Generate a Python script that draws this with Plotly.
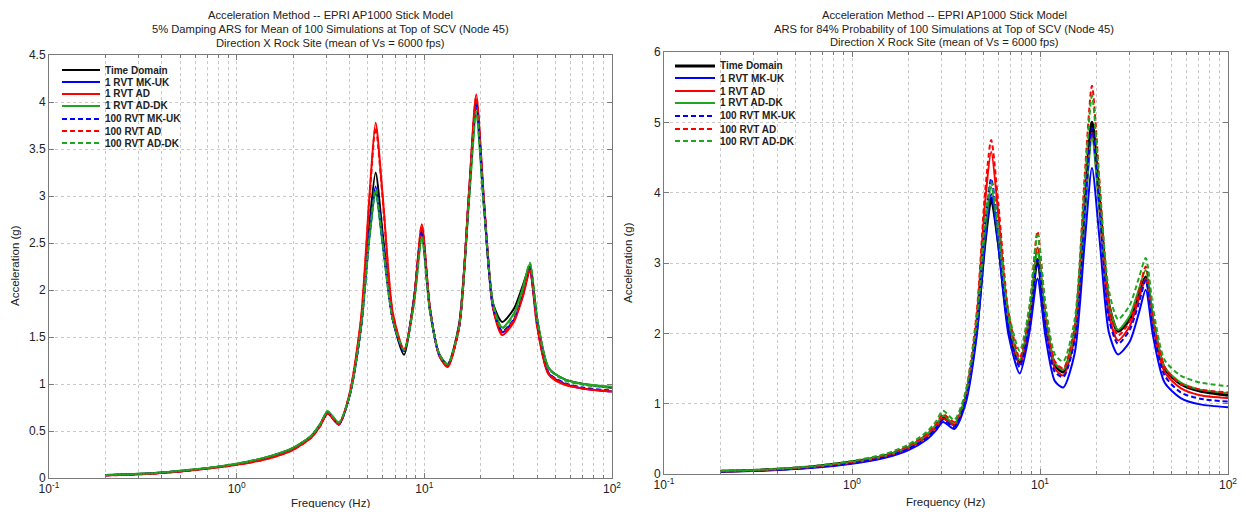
import plotly.graph_objects as go

# ---------------- data ----------------
freq = [0.2, 0.35, 0.6, 1.0, 1.5, 2.0, 2.5, 2.8, 3.05, 3.5, 4.0, 4.6, 5.1, 5.5, 6.0, 6.8,
        7.8, 8.8, 9.7, 10.7, 12.0, 13.3, 15.3, 17.3, 18.9, 20.8, 23.3, 26.0, 30.0, 33.5,
        36.5, 40.0, 46.0, 56.0, 71.0, 100.0]

series_names = ["Time Domain", "1 RVT MK-UK", "1 RVT AD", "1 RVT AD-DK",
                "100 RVT MK-UK", "100 RVT AD", "100 RVT AD-DK"]

# Left chart: mean of 100 simulations
mean_td = [0.03, 0.05, 0.09, 0.15, 0.23, 0.32, 0.45, 0.58, 0.70, 0.58, 0.88, 1.62, 2.70, 3.25, 2.60, 1.68,
           1.31, 1.90, 2.62, 1.80, 1.32, 1.21, 1.63, 3.00, 4.00, 2.90, 1.85, 1.66, 1.80, 2.05,
           2.25, 1.68, 1.17, 1.05, 1.00, 0.96]
mean_1mk = [0.03, 0.048, 0.088, 0.145, 0.22, 0.31, 0.44, 0.57, 0.69, 0.57, 0.88, 1.62, 2.62, 3.10, 2.52, 1.68,
            1.35, 1.90, 2.64, 1.80, 1.31, 1.19, 1.60, 3.02, 4.02, 2.92, 1.80, 1.55, 1.68, 1.95,
            2.22, 1.62, 1.11, 1.00, 0.95, 0.92]
mean_1ad = [0.028, 0.045, 0.085, 0.14, 0.21, 0.30, 0.43, 0.56, 0.69, 0.57, 0.90, 1.70, 3.00, 3.78, 3.00, 1.75,
            1.36, 1.90, 2.70, 1.82, 1.30, 1.18, 1.60, 3.05, 4.08, 2.95, 1.80, 1.52, 1.66, 1.93,
            2.20, 1.60, 1.10, 0.99, 0.95, 0.92]
mean_1addk = [0.032, 0.05, 0.092, 0.152, 0.23, 0.32, 0.45, 0.58, 0.71, 0.59, 0.88, 1.60, 2.55, 3.03, 2.48, 1.68,
              1.36, 1.85, 2.55, 1.78, 1.32, 1.21, 1.60, 2.95, 3.86, 2.86, 1.84, 1.60, 1.75, 2.02,
              2.28, 1.68, 1.17, 1.05, 1.00, 0.97]
mean_100mk = [0.03, 0.048, 0.088, 0.145, 0.22, 0.31, 0.44, 0.57, 0.69, 0.57, 0.88, 1.60, 2.58, 3.06, 2.50, 1.68,
              1.35, 1.89, 2.62, 1.80, 1.31, 1.20, 1.60, 3.00, 3.98, 2.90, 1.80, 1.56, 1.69, 1.96,
              2.22, 1.63, 1.12, 1.01, 0.96, 0.93]
mean_100ad = [0.028, 0.045, 0.085, 0.14, 0.21, 0.30, 0.43, 0.56, 0.69, 0.57, 0.90, 1.68, 2.96, 3.73, 2.97, 1.74,
              1.36, 1.89, 2.68, 1.81, 1.31, 1.19, 1.60, 3.03, 4.05, 2.93, 1.80, 1.54, 1.68, 1.94,
              2.21, 1.61, 1.11, 1.00, 0.95, 0.92]
mean_100addk = [0.032, 0.05, 0.092, 0.152, 0.23, 0.32, 0.45, 0.58, 0.71, 0.59, 0.88, 1.61, 2.57, 3.07, 2.50, 1.68,
                1.36, 1.86, 2.57, 1.79, 1.32, 1.21, 1.60, 2.97, 3.90, 2.88, 1.83, 1.59, 1.74, 2.01,
                2.29, 1.69, 1.16, 1.04, 0.99, 0.96]

# Right chart: 84% probability of 100 simulations
p84_td = [0.04, 0.06, 0.10, 0.17, 0.26, 0.38, 0.55, 0.68, 0.80, 0.70, 1.05, 2.05, 3.30, 3.92, 3.30, 2.10,
          1.58, 2.20, 3.05, 2.15, 1.55, 1.45, 2.00, 3.80, 5.00, 3.85, 2.40, 2.03, 2.20, 2.55,
          2.80, 2.15, 1.50, 1.28, 1.18, 1.12]
p84_1mk = [0.035, 0.05, 0.085, 0.145, 0.23, 0.34, 0.49, 0.62, 0.74, 0.64, 0.98, 1.95, 3.30, 3.98, 3.25, 1.98,
           1.43, 2.02, 2.78, 1.95, 1.32, 1.23, 1.72, 3.30, 4.35, 3.30, 2.00, 1.70, 1.88, 2.28,
           2.62, 1.95, 1.30, 1.08, 0.99, 0.95]
p84_1ad = [0.038, 0.056, 0.095, 0.16, 0.25, 0.37, 0.53, 0.66, 0.79, 0.69, 1.08, 2.20, 3.85, 4.58, 3.70, 2.20,
           1.55, 2.20, 3.22, 2.20, 1.50, 1.40, 1.95, 3.75, 4.85, 3.70, 2.25, 1.90, 2.10, 2.48,
           2.78, 2.10, 1.45, 1.22, 1.12, 1.08]
p84_1addk = [0.042, 0.062, 0.10, 0.17, 0.26, 0.39, 0.56, 0.70, 0.83, 0.72, 1.08, 2.12, 3.45, 4.08, 3.40, 2.18,
             1.62, 2.25, 3.15, 2.25, 1.58, 1.48, 2.05, 3.70, 4.78, 3.70, 2.40, 2.05, 2.25, 2.62,
             2.90, 2.20, 1.52, 1.30, 1.20, 1.15]
p84_100mk = [0.037, 0.054, 0.09, 0.155, 0.24, 0.36, 0.51, 0.65, 0.77, 0.67, 1.02, 2.10, 3.55, 4.20, 3.45, 2.08,
             1.52, 2.15, 3.05, 2.12, 1.45, 1.38, 1.90, 3.75, 4.92, 3.75, 2.20, 1.85, 2.05, 2.42,
             2.75, 2.05, 1.40, 1.16, 1.07, 1.03]
p84_100ad = [0.042, 0.062, 0.105, 0.175, 0.27, 0.40, 0.57, 0.71, 0.85, 0.74, 1.12, 2.28, 4.00, 4.75, 3.85, 2.30,
             1.65, 2.35, 3.45, 2.35, 1.60, 1.50, 2.10, 4.25, 5.52, 4.10, 2.40, 1.97, 2.17, 2.58,
             2.95, 2.22, 1.52, 1.28, 1.20, 1.16]
p84_100addk = [0.045, 0.066, 0.11, 0.185, 0.285, 0.42, 0.60, 0.75, 0.90, 0.77, 1.15, 2.20, 3.60, 4.15, 3.50, 2.30,
               1.75, 2.40, 3.40, 2.40, 1.70, 1.60, 2.20, 4.15, 5.38, 4.05, 2.60, 2.20, 2.40, 2.78,
               3.07, 2.35, 1.62, 1.40, 1.30, 1.25]

x_tickvals = [0.1, 1, 10, 100]
x_ticktext = ["10<sup>-1</sup>", "10<sup>0</sup>", "10<sup>1</sup>", "10<sup>2</sup>"]
x_minor = [0.2, 0.3, 0.4, 0.5, 0.6, 0.7, 0.8, 0.9, 2, 3, 4, 5, 6, 7, 8, 9,
           20, 30, 40, 50, 60, 70, 80, 90]
y1_ticks = [0, 0.5, 1, 1.5, 2, 2.5, 3, 3.5, 4, 4.5]
y1_text = ["0", "0.5", "1", "1.5", "2", "2.5", "3", "3.5", "4", "4.5"]
y2_ticks = [0, 1, 2, 3, 4, 5, 6]
y2_text = ["0", "1", "2", "3", "4", "5", "6"]

left_title = ["Acceleration Method -- EPRI AP1000 Stick Model",
              "5% Damping ARS for Mean of 100 Simulations at Top of SCV (Node 45)",
              "Direction X Rock Site (mean of Vs = 6000 fps)"]
right_title = ["Acceleration Method -- EPRI AP1000 Stick Model",
               "ARS for 84% Probability of 100 Simulations at Top of SCV (Node 45)",
               "Direction X Rock Site (mean of Vs = 6000 fps)"]

# ---------------- styles ----------------
# the page body has an 8px margin, so the figure is drawn from (8, 8) of the window
OFF = 8
W, H = 1246 - 2 * OFF, 516 - 2 * OFF
FONT = "Liberation Sans, Arial, sans-serif"
BLACK, BLUE, RED, GREEN = "#000000", "#0000ff", "#ff0000", "#1fa51f"
colors = [BLACK, BLUE, RED, GREEN, BLUE, RED, GREEN]
dashes = ["solid", "solid", "solid", "solid", "5px,3px", "5px,3px", "5px,3px"]

left_series = [mean_td, mean_1mk, mean_1ad, mean_1addk, mean_100mk, mean_100ad, mean_100addk]
right_series = [p84_td, p84_1mk, p84_1ad, p84_1addk, p84_100mk, p84_100ad, p84_100addk]

def px(x):
    return (x - OFF) / W

def py(y):
    return 1 - (y - OFF) / H

fig = go.Figure()

for i, ys in enumerate(left_series):
    fig.add_trace(go.Scatter(x=freq, y=ys, mode="lines", name=series_names[i],
                             line=dict(color=colors[i], width=2, dash=dashes[i],
                                       shape="spline", smoothing=0.7),
                             xaxis="x", yaxis="y", showlegend=False))
for i, ys in enumerate(right_series):
    fig.add_trace(go.Scatter(x=freq, y=ys, mode="lines", name=series_names[i],
                             line=dict(color=colors[i], width=3 if i == 0 else 2, dash=dashes[i],
                                       shape="spline", smoothing=0.7),
                             xaxis="x2", yaxis="y2", showlegend=False))

GRID = "#c9c9c9"
FRAME = "#7a7a7a"

def xaxis(domain, anchor):
    return dict(domain=domain, anchor=anchor, type="log", range=[-1, 2],
                tickvals=x_tickvals, ticktext=x_ticktext, automargin=False,
                showgrid=True, gridcolor=GRID, griddash="dot", gridwidth=1,
                ticks="inside", ticklen=5, tickcolor=FRAME,
                showline=True, linecolor=FRAME, linewidth=1, mirror="ticks",
                minor=dict(tickvals=x_minor, showgrid=True, gridcolor=GRID, griddash="dot",
                           ticks="inside", ticklen=3, tickcolor=FRAME),
                tickfont=dict(family=FONT, size=12, color="#222222"),
                zeroline=False)

def yaxis(domain, anchor, rng, tv, tt):
    return dict(domain=domain, anchor=anchor, range=rng, tickvals=tv, ticktext=tt,
                automargin=False,
                showgrid=True, gridcolor=GRID, griddash="dot", gridwidth=1,
                ticks="inside", ticklen=5, tickcolor=FRAME,
                showline=True, linecolor=FRAME, linewidth=1, mirror="ticks",
                tickfont=dict(family=FONT, size=12, color="#222222"),
                zeroline=False)

annotations = []
shapes = []

def text(x, y, s, size=11.2, xanchor="center", textangle=0, bold=False):
    annotations.append(dict(x=px(x), y=py(y), xref="paper", yref="paper", text=s,
                            showarrow=False, xanchor=xanchor, yanchor="middle",
                            textangle=textangle,
                            font=dict(family=FONT, size=size, color="#222222",
                                      weight="bold" if bold else "normal")))

for j, line in enumerate(left_title):
    text(330, [15, 29, 43][j], line)
for j, line in enumerate(right_title):
    text(944, [15, 28.5, 42][j], line)

text(15, 266, "Acceleration (g)", size=11.5, textangle=-90)
text(628, 263, "Acceleration (g)", size=11.5, textangle=-90)
text(330, 503, "Frequency (Hz)", size=11.5)
text(945, 502, "Frequency (Hz)", size=11.5)

def legend(x0, x1, xt, rows, widths):
    for i, name in enumerate(series_names):
        y = rows[i]
        shapes.append(dict(type="line", xref="paper", yref="paper",
                           x0=px(x0), x1=px(x1), y0=py(y), y1=py(y),
                           line=dict(color=colors[i], width=widths[i], dash=dashes[i])))
        text(xt, y, name, size=10, xanchor="left", bold=True)

legend(62, 100, 103, [70, 82, 94, 106, 119, 131, 143], [2, 2, 2, 2, 2, 2, 2])
legend(675, 715, 718, [66, 78, 91, 103, 116, 129, 141], [3, 2, 2, 2, 2, 2, 2])

fig.update_layout(
    width=W, height=H,
    margin=dict(l=0, r=0, t=0, b=0, autoexpand=False),
    paper_bgcolor="white", plot_bgcolor="white",
    showlegend=False,
    xaxis=xaxis([px(49), px(612)], "y"),
    yaxis=yaxis([py(478), py(55)], "x", [0, 4.5], y1_ticks, y1_text),
    xaxis2=xaxis([px(664), px(1228)], "y2"),
    yaxis2=yaxis([py(474), py(52)], "x2", [0, 6], y2_ticks, y2_text),
    annotations=annotations,
    shapes=shapes,
)

fig.write_html("out.html")
